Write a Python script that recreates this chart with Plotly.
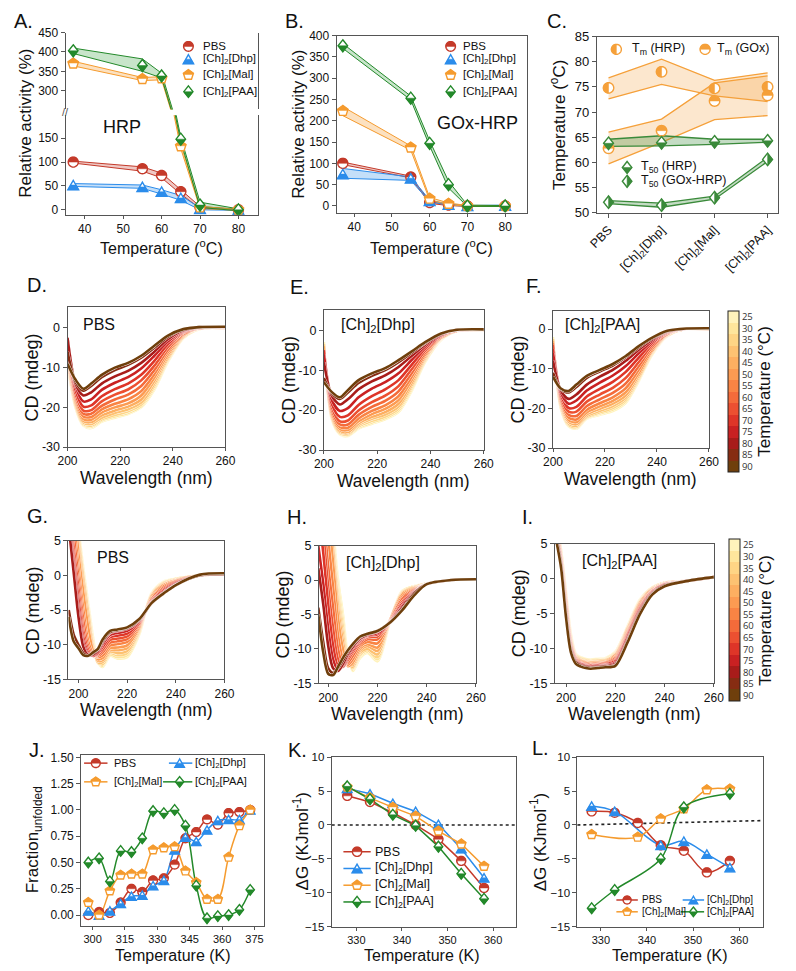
import numpy as np
import plotly.graph_objects as go

W, H = 796, 971
FONT = "Liberation Sans, Arial, sans-serif"

# ---------------- DATA ----------------
# Panel A  (HRP)
A_temp = [37, 55, 60, 65, 70, 80]
A_PBS = [100, 86, 72, 38, 5, 0]
A_PBS_hi = [102, 90, 77, 42, 7, 1]
A_PBS_lo = [98, 81, 67, 33, 3, -1]
A_Dhp = [52, 48, 38, 25, 2, 0]
A_Dhp_hi = [55, 52, 42, 30, 4, 1]
A_Dhp_lo = [49, 45, 33, 20, 0, -1]
A_Mal = [370, 330, 332, 133, 5, 0]
A_Mal_hi = [376, 334, 336, 137, 7, 1]
A_Mal_lo = [364, 326, 328, 128, 3, -1]
A_PAA = [403, 365, 338, 148, 10, 0]
A_PAA_hi = [410, 382, 345, 152, 16, 2]
A_PAA_lo = [396, 350, 333, 144, 5, -2]

# Panel B  (GOx-HRP)
B_temp = [37, 55, 60, 65, 70, 80]
B_PBS = [100, 68, 8, 2, 0, 0]
B_PBS_hi = [103, 70, 10, 3, 1, 1]
B_PBS_lo = [97, 66, 6, 1, -1, -1]
B_Dhp = [75, 65, 12, 3, 0, 1]
B_Dhp_hi = [88, 68, 14, 4, 1, 2]
B_Dhp_lo = [65, 60, 10, 2, -1, 0]
B_Mal = [223, 137, 17, 5, 0, 0]
B_Mal_hi = [233, 141, 20, 7, 1, 1]
B_Mal_lo = [212, 131, 14, 3, -1, -1]
B_PAA = [376, 253, 147, 50, 0, 0]
B_PAA_hi = [381, 258, 153, 58, 2, 1]
B_PAA_lo = [370, 249, 141, 42, -1, -1]

# Panel C
C_cats = ["PBS", "[Ch]<sub>2</sub>[Dhp]", "[Ch]<sub>2</sub>[Mal]", "[Ch]<sub>2</sub>[PAA]"]
C_Tm_HRP = [74.8, 78.0, 74.7, 75.0]
C_Tm_HRP_hi = [76.8, 80.5, 76.3, 77.8]
C_Tm_HRP_lo = [72.6, 75.5, 73.2, 72.1]
C_Tm_GOx = [62.8, 66.3, 72.2, 73.3]
C_Tm_GOx_hi = [66.0, 68.6, 75.8, 77.2]
C_Tm_GOx_lo = [59.7, 64.0, 68.5, 69.3]
C_T50_HRP = [63.8, 63.9, 64.1, 64.3]
C_T50_HRP_hi = [64.6, 65.3, 64.6, 64.6]
C_T50_HRP_lo = [63.2, 63.3, 63.6, 64.0]
C_T50_GH = [52.1, 51.5, 53.0, 60.6]
C_T50_GH_hi = [52.4, 51.9, 53.3, 61.0]
C_T50_GH_lo = [51.8, 51.1, 52.7, 60.2]

# CD spectra
TEMPS = [25, 30, 35, 40, 45, 50, 55, 60, 65, 70, 75, 80, 85, 90]
CD_COLORS = ['#FFF3BC', '#FEE69C', '#FED585', '#FDC272', '#FDAF61', '#FC9B52', '#F98444',
             '#F46B3A', '#EC5031', '#DE3528', '#C92122', '#A81C1A', '#862C12', '#6F3F0C']
WL_top = [200, 203, 206, 209, 213, 218, 223, 228, 233, 238, 244, 250, 260]
D_CD = {
    25: [-9, -20, -24.6, -25.2, -23.6, -22.6, -21.7, -20, -15.5, -8.7, -2.6, -0.3, 0],
    30: [-9, -19.8, -24.4, -24.9, -23.3, -22.3, -21.4, -19.7, -15.1, -8.4, -2.5, -0.2, 0],
    35: [-8.5, -19.6, -24.1, -24.6, -23, -21.9, -21, -19.3, -14.6, -8.1, -2.4, -0.2, 0],
    40: [-8, -19.3, -23.8, -24.2, -22.6, -21.4, -20.5, -18.8, -14, -7.8, -2.3, -0.2, 0],
    45: [-7.5, -18.9, -23.4, -23.7, -22, -20.8, -19.8, -18, -13.3, -7.3, -2.1, -0.1, 0],
    50: [-7, -18.4, -22.9, -23.1, -21.3, -20, -19, -17, -12.5, -6.8, -1.9, -0.1, 0],
    55: [-6, -17.8, -22.3, -22.4, -20.5, -19.1, -18, -15.9, -11.6, -6.2, -1.7, -0.1, 0],
    60: [-5, -17.2, -21.6, -21.6, -19.6, -18, -16.8, -14.6, -10.6, -5.6, -1.5, 0, 0.1],
    65: [-4, -16.5, -20.8, -20.7, -18.5, -16.8, -15.5, -13.2, -9.5, -4.9, -1.2, 0, 0.1],
    70: [-3, -15.5, -19.8, -19.5, -17.2, -15.4, -14, -11.8, -8.3, -4.2, -1, 0, 0.1],
    75: [-2.5, -14.5, -18.5, -18, -15.6, -13.8, -12.4, -10.2, -7, -3.5, -0.8, 0.1, 0.2],
    80: [-2.5, -14, -17, -16.2, -14, -12.2, -10.8, -8.8, -6, -2.9, -0.6, 0.1, 0.2],
    85: [-6, -13.5, -15.8, -14.6, -12.4, -10.6, -9.3, -7.5, -5, -2.3, -0.4, 0.2, 0.3],
    90: [-9, -13, -15.3, -14, -11.8, -10, -8.8, -7, -4.5, -2, -0.3, 0.2, 0.3],
}
E_CD = {
    25: [-3, -22.4, -26.1, -26.5, -24.6, -23.4, -22.3, -20.5, -15.1, -8, -2.4, -0.2, 0],
    30: [-3.5, -22.2, -25.9, -26.3, -24.4, -23.1, -22, -20.1, -14.7, -7.8, -2.3, -0.2, 0],
    35: [-3.5, -22, -25.7, -26.1, -24.1, -22.7, -21.6, -19.6, -14.2, -7.5, -2.2, -0.2, 0],
    40: [-4, -21.8, -25.4, -25.8, -23.7, -22.2, -21.1, -19.1, -13.7, -7.2, -2.1, -0.2, 0],
    45: [-4, -21.5, -25.1, -25.5, -23.3, -21.7, -20.5, -18.4, -13.1, -6.9, -2, -0.1, 0],
    50: [-5, -21.1, -24.7, -25, -22.8, -21, -19.7, -17.5, -12.4, -6.5, -1.9, -0.1, 0],
    55: [-5, -20.6, -24.2, -24.4, -22.1, -20.2, -18.8, -16.5, -11.6, -6.1, -1.8, -0.1, 0],
    60: [-5, -20, -23.6, -23.6, -21.2, -19.2, -17.7, -15.3, -10.7, -5.6, -1.6, -0.1, 0.1],
    65: [-5, -19.3, -22.8, -22.6, -20.1, -18, -16.4, -14, -9.7, -5.1, -1.5, 0, 0.1],
    70: [-5, -18.5, -21.7, -21.3, -18.7, -16.5, -14.8, -12.5, -8.6, -4.6, -1.3, 0, 0.1],
    75: [-6, -17.5, -20.2, -19.5, -16.8, -14.6, -13, -10.8, -7.4, -4.1, -1.2, 0, 0.2],
    80: [-8, -16.5, -18.6, -17.3, -14.8, -12.8, -11.3, -9.2, -6.4, -3.6, -1, 0.1, 0.2],
    85: [-12, -15.8, -17.2, -15.6, -13.2, -11.4, -10, -8, -5.6, -3.2, -0.9, 0.1, 0.2],
    90: [-13, -15.5, -16.8, -15, -12.5, -10.8, -9.5, -7.5, -5.3, -3, -0.8, 0.1, 0.2],
}
F_CD = {
    25: [-2, -20, -24.5, -25.1, -22.6, -21.6, -20.7, -18.6, -13.1, -6.6, -1.8, -0.1, 0],
    30: [-2.5, -19.8, -24.3, -24.9, -22.4, -21.3, -20.3, -18.2, -12.8, -6.4, -1.7, -0.1, 0],
    35: [-2.5, -19.6, -24.1, -24.7, -22.2, -21, -19.9, -17.8, -12.5, -6.2, -1.7, -0.1, 0],
    40: [-3, -19.3, -23.8, -24.4, -21.9, -20.6, -19.4, -17.3, -12.1, -6, -1.6, -0.1, 0],
    45: [-3, -19, -23.4, -24, -21.5, -20.1, -18.8, -16.7, -11.6, -5.8, -1.5, -0.1, 0],
    50: [-3.5, -18.5, -22.9, -23.5, -21, -19.5, -18.1, -15.9, -11, -5.5, -1.4, -0.1, 0],
    55: [-3.5, -18, -22.3, -22.8, -20.3, -18.7, -17.2, -14.9, -10.2, -5.1, -1.3, 0, 0],
    60: [-4, -17.5, -21.6, -21.9, -19.4, -17.7, -16.1, -13.7, -9.3, -4.6, -1.2, 0, 0.1],
    65: [-4, -17, -20.8, -20.8, -18.3, -16.5, -14.8, -12.3, -8.3, -4.1, -1, 0, 0.1],
    70: [-5, -16.5, -19.9, -19.6, -17, -15.1, -13.3, -10.8, -7.2, -3.6, -0.9, 0, 0.1],
    75: [-6, -16, -18.8, -18, -15.5, -13.5, -11.7, -9.3, -6.1, -3.1, -0.7, 0, 0.2],
    80: [-8, -15.5, -17.6, -16.5, -14, -12, -10.3, -8, -5.2, -2.7, -0.6, 0.1, 0.2],
    85: [-11, -15.2, -16, -14.6, -12.3, -10.7, -9.2, -7.1, -4.6, -2.4, -0.5, 0.1, 0.2],
    90: [-12, -15, -15.6, -14, -11.8, -10.3, -8.8, -6.8, -4.3, -2.2, -0.4, 0.1, 0.2],
}
WL_bot = [196, 198, 200, 202, 204, 206, 208, 210, 213, 216, 220, 225, 230, 235, 240, 250, 260]
G_CD = {
    25: [30, 20, 7, 1, -4, -9, -12.5, -13.2, -11.6, -12, -11.8, -8.5, -2.6, -0.9, -0.5, 0, 0.2],
    30: [28, 18, 6.5, 0.5, -4.5, -9.5, -12.6, -13, -11.4, -11.8, -11.5, -8.3, -2.7, -1, -0.5, 0, 0.2],
    35: [26, 17, 6, 0, -5, -10, -12.6, -12.8, -11.2, -11.5, -11.2, -8.1, -2.8, -1.1, -0.6, 0, 0.2],
    40: [24, 16, 5, -0.5, -5.5, -10.3, -12.5, -12.5, -11, -11.2, -10.9, -7.9, -2.9, -1.2, -0.6, 0, 0.2],
    45: [22, 14, 4, -1.5, -6.5, -10.6, -12.3, -12.2, -10.8, -10.8, -10.5, -7.7, -3, -1.3, -0.7, 0, 0.2],
    50: [20, 12, 3, -2.5, -7.5, -10.9, -12.1, -11.9, -10.5, -10.4, -10.1, -7.5, -3.2, -1.4, -0.7, 0, 0.2],
    55: [15, 8, 1, -5, -9.5, -11.3, -11.8, -11.5, -10.1, -9.9, -9.6, -7.3, -3.4, -1.6, -0.8, 0, 0.2],
    60: [13, 6, -0.5, -6.5, -10.3, -11.5, -11.6, -11.1, -9.7, -9.5, -9.2, -7.1, -3.5, -1.8, -0.9, 0, 0.2],
    65: [11, 4, -2, -8, -10.8, -11.6, -11.4, -10.7, -9.3, -9.1, -8.8, -6.9, -3.7, -2, -1, 0, 0.2],
    70: [9, 2.5, -3.5, -9, -11.2, -11.6, -11.2, -10.3, -8.9, -8.7, -8.4, -6.7, -3.8, -2.2, -1.1, 0, 0.2],
    75: [8, 1.5, -5, -9.8, -11.4, -11.5, -11, -9.9, -8.6, -8.3, -8, -6.6, -3.9, -2.4, -1.2, 0, 0.2],
    80: [7, 0.5, -6, -10.3, -11.5, -11.4, -10.8, -9.6, -8.3, -8, -7.7, -6.5, -4, -2.5, -1.3, 0, 0.2],
    85: [-5, -8.5, -10, -11.2, -11.6, -11.2, -10.6, -9.4, -8.2, -7.9, -7.6, -6.4, -4, -2.6, -1.4, 0, 0.2],
    90: [-6, -9.5, -10.5, -11.5, -11.6, -11.1, -10.6, -9.2, -8, -7.8, -7.5, -6.3, -4, -2.6, -1.4, 0.1, 0.3],
}
H_CD = {
    25: [40, 30, 20, 8, 0, -5, -11, -13.2, -11.3, -10.6, -11.8, -6.2, -1.6, -0.9, -0.5, 0, 0.1],
    30: [38, 28, 18, 7, -1, -6, -11.3, -13, -11, -10.4, -11.5, -6.1, -1.7, -0.9, -0.5, 0, 0.1],
    35: [36, 26, 16, 6, -2, -7, -11.6, -12.8, -10.8, -10.2, -11.2, -6, -1.8, -1, -0.5, 0, 0.1],
    40: [34, 24, 14, 5, -3, -8, -12, -12.6, -10.5, -10, -10.8, -6, -1.9, -1, -0.5, 0, 0.1],
    45: [32, 22, 12, 4, -4, -9, -12.3, -12.3, -10.2, -9.6, -10.3, -5.9, -2, -1.1, -0.6, 0, 0.1],
    50: [30, 20, 10, 2.5, -5.5, -10, -12.5, -12, -9.9, -9.3, -9.8, -5.9, -2.2, -1.2, -0.6, 0, 0.1],
    55: [22, 14, 6, -1, -8, -11.5, -12.3, -11.5, -9.6, -9, -9.2, -6, -2.5, -1.3, -0.6, 0, 0.1],
    60: [18, 10, 2, -4, -10, -12.3, -12, -11, -9.3, -8.6, -8.6, -6, -2.8, -1.4, -0.6, 0, 0.1],
    65: [14, 7, -1, -7, -11.5, -12.6, -11.6, -10.5, -9, -8.3, -8.2, -6.1, -3.2, -1.5, -0.6, 0, 0.1],
    70: [10, 4, -3.5, -9.5, -12.5, -12.6, -11.2, -10.2, -8.8, -8.1, -7.9, -6.1, -3.5, -1.6, -0.6, 0, 0.1],
    75: [5, -0.5, -7, -11.5, -13, -12.4, -10.9, -9.9, -8.6, -8, -7.7, -6.2, -3.8, -1.7, -0.6, 0, 0.1],
    80: [1.7, -3.5, -9.5, -12.8, -13.2, -12.2, -10.7, -9.7, -8.5, -7.9, -7.5, -6.2, -4, -1.8, -0.6, 0, 0.1],
    85: [-4, -9, -12.8, -13.5, -12.8, -11.7, -10.4, -9.4, -8.3, -7.8, -7.4, -6.2, -4.3, -1.9, -0.6, 0, 0.1],
    90: [-5, -10.5, -13.6, -13.8, -12.6, -11.3, -10.2, -9.3, -8.2, -7.8, -7.4, -6.2, -4.4, -2.2, -0.6, 0, 0.1],
}
I_CD = {
    25: [8, 4, -2, -8, -10.8, -11.3, -11.5, -11.6, -11.5, -11.4, -10.5, -6.8, -3.0, -1.3, -0.6, -0.3, 0.2],
    30: [8, 4, -2.2, -8.2, -10.9, -11.4, -11.6, -11.7, -11.6, -11.5, -10.6, -6.9, -3.1, -1.3, -0.6, -0.3, 0.2],
    35: [8, 3.8, -2.4, -8.4, -11, -11.5, -11.7, -11.8, -11.7, -11.6, -10.7, -7, -3.2, -1.4, -0.6, -0.3, 0.2],
    40: [8, 3.6, -2.6, -8.6, -11.1, -11.6, -11.8, -11.9, -11.8, -11.7, -10.8, -7.1, -3.3, -1.4, -0.6, -0.3, 0.2],
    45: [8, 3.4, -2.8, -8.8, -11.2, -11.7, -11.9, -12, -11.9, -11.8, -10.9, -7.2, -3.4, -1.5, -0.7, -0.3, 0.2],
    50: [7.5, 3.2, -3, -9, -11.3, -11.8, -12, -12.1, -12, -11.9, -11, -7.4, -3.5, -1.5, -0.7, -0.3, 0.2],
    55: [7.5, 3, -3.3, -9.2, -11.4, -11.9, -12.1, -12.2, -12.1, -12, -11.2, -7.6, -3.7, -1.6, -0.7, -0.3, 0.2],
    60: [7, 2.8, -3.6, -9.4, -11.5, -12, -12.2, -12.3, -12.2, -12.1, -11.4, -7.8, -3.9, -1.7, -0.8, -0.3, 0.2],
    65: [7, 2.6, -4, -9.6, -11.6, -12.1, -12.3, -12.4, -12.3, -12.2, -11.6, -8, -4.1, -1.8, -0.8, -0.3, 0.2],
    70: [6.5, 2.4, -4.3, -9.8, -11.7, -12.2, -12.4, -12.5, -12.4, -12.3, -11.8, -8.2, -4.3, -1.9, -0.9, -0.3, 0.2],
    75: [6.5, 2.2, -4.6, -10, -11.8, -12.3, -12.5, -12.6, -12.5, -12.4, -12, -8.4, -4.5, -2, -0.9, -0.3, 0.2],
    80: [6, 2, -5, -10.2, -11.9, -12.4, -12.6, -12.7, -12.6, -12.5, -12.2, -8.7, -4.7, -2.1, -1, -0.3, 0.2],
    85: [6, 1.8, -5.3, -10.4, -12, -12.5, -12.7, -12.8, -12.7, -12.6, -12.4, -8.9, -4.9, -2.2, -1, -0.3, 0.2],
    90: [5.5, 1.5, -5.6, -10.6, -12.2, -12.6, -12.8, -12.9, -12.8, -12.7, -12.5, -9.1, -5.1, -2.3, -1.1, -0.3, 0.2],
}

# Panel J
J_T = [298, 303, 308, 313, 318, 323, 328, 333, 338, 343, 348, 353, 358, 363, 368, 373]
J_PBS = [0.00, 0.03, 0.02, 0.12, 0.25, 0.22, 0.33, 0.35, 0.48, 0.73, 0.79, 0.91, 0.86, 0.97, 0.98, 1.00]
J_Dhp = [0.04, 0.00, 0.04, 0.11, 0.18, 0.19, 0.28, 0.33, 0.62, 0.74, 0.70, 0.81, 0.90, 0.91, 0.91, 1.00]
J_Mal = [0.12, 0.00, 0.23, 0.38, 0.39, 0.39, 0.62, 0.64, 0.65, 0.42, 0.31, 0.15, 0.15, 0.55, 0.85, 1.00]
J_PAA = [0.50, 0.54, 0.32, 0.61, 0.60, 0.73, 0.99, 0.97, 1.00, 0.85, 0.28, -0.03, -0.01, 0.00, 0.05, 0.24]

# Panel K
K_T = [328, 333, 338, 343, 348, 353, 358]
K_PBS = [4.3, 3.4, 1.8, 0.0, -2.1, -5.3, -9.3]
K_Dhp = [5.4, 4.6, 3.2, 2.0, 0.1, -3.5, -7.8]
K_Mal = [5.6, 4.0, 2.6, 1.3, -0.9, -2.8, -6.1]
K_PAA = [5.7, 3.8, 1.5, -0.1, -3.2, -7.2, -10.9]

# Panel L
L_T_PBS = [328, 333, 338, 343, 348, 353, 358]
L_PBS = [2.0, 1.8, 0.3, -3.0, -3.8, -7.0, -5.3]
L_T_Dhp = [328, 333, 343, 348, 353, 358]
L_Dhp = [2.8, 2.0, -3.0, -2.4, -4.3, -6.3]
L_T_Mal = [328, 338, 343, 348, 353, 358]
L_Mal = [-1.4, -1.8, 0.9, 2.4, 5.2, 5.3]
L_T_PAA = [328, 333, 343, 348, 358]
L_PAA = [-12.3, -9.6, -5.0, 2.6, 4.6]
L_ref = [0.0, 0.65]

# ---------------- STYLE ----------------
RED, BLUE, ORANGE, GREEN = '#C43A2A', '#2B8CEB', '#F59B2E', '#23892A'
RED_F, BLUE_F, ORANGE_F, GREEN_F = ('rgba(196,58,42,0.28)', 'rgba(43,140,235,0.28)',
                                    'rgba(245,155,46,0.30)', 'rgba(35,150,42,0.25)')
C_OR, C_GR = '#F5A03A', '#3A8A3A'

fig = go.Figure()
shapes, annotations = [], []


def P(x, y):
    return x / W, 1 - y / H


def ann(text, x, y, size, xanchor='center', yanchor='middle', angle=0, color='#111', pad=1):
    X, Y = P(x, y)
    annotations.append(dict(text=text, x=X, y=Y, xref='paper', yref='paper', showarrow=False,
                            xanchor=xanchor, yanchor=yanchor, textangle=angle, borderpad=pad,
                            font=dict(size=size, color=color, family=FONT)))


def sym_pts(sym, r):
    if sym == 'circle':
        t = np.linspace(0, 2 * np.pi, 33)[:-1]
        return np.c_[r * np.cos(t), r * np.sin(t)]
    if sym == 'triangle':
        R = r * 1.25
        t = np.deg2rad([90, 210, 330])
        return np.c_[R * np.cos(t), R * np.sin(t) - 0.25 * R]
    if sym == 'pentagon':
        R = r * 1.1
        t = np.deg2rad(90 + 72 * np.arange(5))
        return np.c_[R * np.cos(t), R * np.sin(t)]
    return np.array([[0, 1.2 * r], [0.95 * r, 0], [0, -1.2 * r], [-0.95 * r, 0]])


def clip_half(pts, half):
    cx = (pts[:, 0].max() + pts[:, 0].min()) / 2
    cy = (pts[:, 1].max() + pts[:, 1].min()) / 2
    f = {'top': lambda p: p[1] - cy, 'bottom': lambda p: cy - p[1],
         'left': lambda p: cx - p[0], 'right': lambda p: p[0] - cx}[half]
    out = []
    n = len(pts)
    for i in range(n):
        a, b = pts[i], pts[(i + 1) % n]
        fa, fb = f(a), f(b)
        if fa >= 0:
            out.append(a)
        if (fa >= 0) != (fb >= 0):
            t = fa / (fa - fb)
            out.append(a + t * (b - a))
    return np.array(out)


def pstr(pts):
    return 'M' + 'L'.join(f'{x:.2f},{y:.2f}' for x, y in pts) + 'Z'


def marker(xref, yref, x, y, sym, color, half, r):
    pts = sym_pts(sym, r)
    base = dict(type='path', xref=xref, yref=yref, xsizemode='pixel', ysizemode='pixel',
                xanchor=x, yanchor=y, layer='above')
    shapes.append(dict(base, path=pstr(pts), fillcolor='white', line=dict(color=color, width=1.4)))
    shapes.append(dict(base, path=pstr(clip_half(pts, half)), fillcolor=color,
                       line=dict(color=color, width=0.5)))


def markers(xref, yref, xs, ys, sym, color, half, r):
    for x, y in zip(xs, ys):
        marker(xref, yref, x, y, sym, color, half, r)


def leg_marker(x, y, sym, color, half, r):
    X, Y = P(x, y)
    marker('paper', 'paper', X, Y, sym, color, half, r)


def leg_line(x0, x1, y, color, width=1.5):
    X0, Y = P(x0, y)
    X1, _ = P(x1, y)
    shapes.append(dict(type='line', xref='paper', yref='paper', x0=X0, x1=X1, y0=Y, y1=Y,
                       line=dict(color=color, width=width), layer='above'))


def band(xa, ya, x, hi, lo, color, fill, width=1.0):
    fig.add_trace(go.Scatter(x=x, y=hi, mode='lines', line=dict(color=color, width=width),
                             xaxis=xa, yaxis=ya, hoverinfo='skip'))
    fig.add_trace(go.Scatter(x=x, y=lo, mode='lines', line=dict(color=color, width=width),
                             fill='tonexty', fillcolor=fill, xaxis=xa, yaxis=ya, hoverinfo='skip'))


def line(xa, ya, x, y, color, shape='linear', width=1.5):
    fig.add_trace(go.Scatter(x=x, y=y, mode='lines',
                             line=dict(color=color, width=width, shape=shape, smoothing=1.0),
                             xaxis=xa, yaxis=ya, hoverinfo='skip'))


AX = dict(showline=True, linecolor='#555', linewidth=1, ticks='outside', ticklen=4,
          tickcolor='#555', showgrid=False, zeroline=False,
          tickfont=dict(size=12, color='#111', family=FONT))


def xax(x0, x1, anchor, rng, mirror=True, **kw):
    d = dict(AX, domain=[x0 / W, x1 / W], anchor=anchor, range=rng, mirror=mirror)
    d.update(kw)
    return d


def yax(top, bot, anchor, rng, mirror=True, **kw):
    d = dict(AX, domain=[1 - bot / H, 1 - top / H], anchor=anchor, range=rng, mirror=mirror)
    d.update(kw)
    return d


layout_axes = {}

# ---------------- Panel A ----------------
A_up_rng = [251.6, 450]
A_lo_rng = [-10.3, 198]
layout_axes['xaxis'] = xax(57, 254, 'y2', [35.0, 85.0], mirror=False, tickvals=[40, 50, 60, 70, 80],
                           ticklen=3)
layout_axes['yaxis'] = yax(26, 104, 'x', A_up_rng, mirror=True, tickvals=[300, 350, 400, 450])
layout_axes['yaxis2'] = yax(110, 211, 'x', A_lo_rng, mirror=True, tickvals=[0, 50, 100, 150])
A_series = [(A_PBS, A_PBS_hi, A_PBS_lo, RED, RED_F, 'circle', 'top'),
            (A_Dhp, A_Dhp_hi, A_Dhp_lo, BLUE, BLUE_F, 'triangle', 'bottom'),
            (A_Mal, A_Mal_hi, A_Mal_lo, ORANGE, ORANGE_F, 'pentagon', 'top'),
            (A_PAA, A_PAA_hi, A_PAA_lo, GREEN, GREEN_F, 'diamond', 'bottom')]
for ya in ['y', 'y2']:
    for m, hi, lo, c, fc, s, h in A_series:
        band('x', ya, A_temp, hi, lo, c, fc)
for m, hi, lo, c, fc, s, h in A_series:
    for x, y in zip(A_temp, m):
        marker('x', 'y' if y > A_up_rng[0] else 'y2', x, y, s, c, h, 5)
ann('//', 57, 107, 11, color='#555')
ann('HRP', 115, 122, 18)
for (lbl, c, s, h), yy in zip([('PBS', RED, 'circle', 'top'),
                               ('[Ch]<sub>2</sub>[Dhp]', BLUE, 'triangle', 'bottom'),
                               ('[Ch]<sub>2</sub>[Mal]', ORANGE, 'pentagon', 'top'),
                               ('[Ch]<sub>2</sub>[PAA]', GREEN, 'diamond', 'bottom')], [40, 53, 69, 86]):
    leg_marker(183, yy, s, c, h, 4.8)
    ann(lbl, 196, yy, 11.5, xanchor='left')
ann('Relative activity (%)', 16, 118, 17, angle=-90)
ann('Temperature (<sup>o</sup>C)', 155, 244, 16, pad=0)

# ---------------- Panel B ----------------
layout_axes['xaxis2'] = xax(335, 530, 'y3', [35.35, 85.7], tickvals=[40, 50, 60, 70, 80], ticklen=3)
layout_axes['yaxis3'] = yax(29, 209, 'x2', [-16, 400], tickvals=list(range(0, 401, 50)))
B_series = [(B_PBS, B_PBS_hi, B_PBS_lo, RED, RED_F, 'circle', 'top'),
            (B_Dhp, B_Dhp_hi, B_Dhp_lo, BLUE, BLUE_F, 'triangle', 'bottom'),
            (B_Mal, B_Mal_hi, B_Mal_lo, ORANGE, ORANGE_F, 'pentagon', 'top'),
            (B_PAA, B_PAA_hi, B_PAA_lo, GREEN, GREEN_F, 'diamond', 'bottom')]
for m, hi, lo, c, fc, s, h in B_series:
    band('x2', 'y3', B_temp, hi, lo, c, fc)
for m, hi, lo, c, fc, s, h in B_series:
    markers('x2', 'y3', B_temp, m, s, c, h, 5)
ann('GOx-HRP', 480, 118, 18)
for (lbl, c, s, h), yy in zip([('PBS', RED, 'circle', 'top'),
                               ('[Ch]<sub>2</sub>[Dhp]', BLUE, 'triangle', 'bottom'),
                               ('[Ch]<sub>2</sub>[Mal]', ORANGE, 'pentagon', 'top'),
                               ('[Ch]<sub>2</sub>[PAA]', GREEN, 'diamond', 'bottom')], [40, 53, 69, 86]):
    leg_marker(452, yy, s, c, h, 4.8)
    ann(lbl, 463, yy, 11.5, xanchor='left')
ann('Relative activity (%)', 296, 119, 17, angle=-90)
ann('Temperature (<sup>o</sup>C)', 432, 244, 16, pad=0)

# ---------------- Panel C ----------------
C_x = list(range(len(C_cats)))
layout_axes['xaxis3'] = xax(602, 788, 'y4', [-0.22, 3.2], tickvals=C_x, ticktext=C_cats, tickangle=-45,
                            tickfont=dict(size=12.5, color='#111', family=FONT))
layout_axes['yaxis4'] = yax(30, 209, 'x3', [50, 85], dtick=5,
                            tickfont=dict(size=13, color='#111', family=FONT))
band('x3', 'y4', C_x, C_Tm_HRP_hi, C_Tm_HRP_lo, C_OR, 'rgba(245,160,58,0.25)', 1.3)
band('x3', 'y4', C_x, C_Tm_GOx_hi, C_Tm_GOx_lo, C_OR, 'rgba(245,160,58,0.25)', 1.3)
band('x3', 'y4', C_x, C_T50_HRP_hi, C_T50_HRP_lo, C_GR, 'rgba(58,138,58,0.30)', 1.3)
band('x3', 'y4', C_x, C_T50_GH_hi, C_T50_GH_lo, C_GR, 'rgba(58,138,58,0.30)', 1.3)
markers('x3', 'y4', C_x, C_Tm_HRP, 'circle', C_OR, 'left', 5.2)
markers('x3', 'y4', C_x, C_Tm_GOx, 'circle', C_OR, 'top', 5.2)
markers('x3', 'y4', C_x, C_T50_HRP, 'diamond', C_GR, 'bottom', 5.2)
markers('x3', 'y4', C_x, C_T50_GH, 'diamond', C_GR, 'right', 5.2)
leg_marker(622, 43, 'circle', C_OR, 'left', 5)
ann('T<sub>m</sub> (HRP)', 636, 43, 12.5, xanchor='left')
leg_marker(713, 43, 'circle', C_OR, 'top', 5)
ann('T<sub>m</sub> (GOx)', 723, 43, 12.5, xanchor='left')
leg_marker(633, 163, 'diamond', C_GR, 'bottom', 5)
ann('T<sub>50</sub> (HRP)', 645, 163, 12.5, xanchor='left')
leg_marker(633, 177, 'diamond', C_GR, 'right', 5)
ann('T<sub>50</sub> (GOx-HRP)', 645, 177, 12.5, xanchor='left')
ann('Temperature (<sup>o</sup>C)', 562, 120, 17, angle=-90)

# ---------------- CD panels ----------------
def cd_panel(xa, ya, wl, curves):
    for T, c in zip(TEMPS, CD_COLORS):
        fig.add_trace(go.Scatter(x=wl, y=curves[T], mode='lines',
                                 line=dict(color='white', width=3.3, shape='spline', smoothing=0.8),
                                 xaxis=xa, yaxis=ya, hoverinfo='skip'))
        fig.add_trace(go.Scatter(x=wl, y=curves[T], mode='lines',
                                 line=dict(color=c, width=2.6, shape='spline', smoothing=0.8),
                                 xaxis=xa, yaxis=ya, hoverinfo='skip'))


top_yt = dict(tickvals=[-30, -20, -10, 0], ticktext=['-30', '-20', '-10', '0'])
bot_yt = dict(tickvals=[-15, -10, -5, 0, 5], ticktext=['-15', '-10', '-5', '0', '5'])
cd_specs = [
    ('xaxis4', 'yaxis5', 'x4', 'y5', (59, 221), (305, 447), [200, 260], [-30, 5.2], top_yt, [200, 220, 240, 260], WL_top, D_CD),
    ('xaxis5', 'yaxis6', 'x5', 'y6', (322, 486), (308, 450), [200, 260], [-30, 5], top_yt, [200, 220, 240, 260], WL_top, E_CD),
    ('xaxis6', 'yaxis7', 'x6', 'y7', (557, 717), (309, 448), [200, 260], [-30, 4.5], top_yt, [200, 220, 240, 260], WL_top, F_CD),
    ('xaxis7', 'yaxis8', 'x7', 'y8', (60, 220), (542, 683), [195.9, 260], [-15, 5], bot_yt, [200, 220, 240, 260], WL_bot, G_CD),
    ('xaxis8', 'yaxis9', 'x8', 'y9', (317, 478), (547, 687), [196.3, 260], [-15, 5], bot_yt, [200, 220, 240, 260], WL_bot, H_CD),
    ('xaxis9', 'yaxis10', 'x9', 'y10', (559, 722), (545, 687), [195.5, 260], [-15, 5], bot_yt, [200, 220, 240, 260], WL_bot, I_CD),
]
for xk, yk, xa, ya, (x0, x1), (y0, y1), xr, yr, yt, xt, wl, curves in cd_specs:
    layout_axes[xk] = xax(x0, x1, ya, xr, tickvals=xt, ticklen=3,
                          tickfont=dict(size=12, color='#111', family=FONT))
    layout_axes[yk] = yax(y0, y1, xa, yr, tickfont=dict(size=12.5, color='#111', family=FONT), **yt)
    cd_panel(xa, ya, wl, curves)
    ann('CD (mdeg)', x0 - 36, (y0 + y1) / 2, 18, angle=-90)
    ann('Wavelength (nm)', (x0 + x1) / 2, y1 + 31, 17.5, pad=0)

ann('PBS', 73, 322, 16, xanchor='left')
ann('[Ch]<sub>2</sub>[Dhp]', 337, 323, 16, xanchor='left')
ann('[Ch]<sub>2</sub>[PAA]', 567, 323, 16, xanchor='left')
ann('PBS', 87, 559, 16, xanchor='left')
ann('[Ch]<sub>2</sub>[Dhp]', 343, 565, 16, xanchor='left')
ann('[Ch]<sub>2</sub>[PAA]', 585, 563, 16, xanchor='left')

# colorbars
cs = []
n = len(TEMPS)
for i, c in enumerate(CD_COLORS[::-1]):
    cs += [[i / n, c], [(i + 1) / n, c]]
for (bx, btop, bbot, xa, ya) in [(737, 310, 471, 'x6', 'y7'), (738, 542, 704, 'x9', 'y10')]:
    fig.add_trace(go.Scatter(
        x=[None], y=[None], mode='markers', xaxis=xa, yaxis=ya, hoverinfo='skip',
        marker=dict(color=[-t for t in TEMPS], colorscale=cs, cmin=-92.5, cmax=-22.5, showscale=True,
                    colorbar=dict(x=bx / W, xanchor='left', xpad=0, ypad=0,
                                  y=1 - (btop + bbot) / 2 / H, yanchor='middle',
                                  len=bbot - btop, lenmode='pixels', thickness=11,
                                  thicknessmode='pixels', outlinewidth=1, outlinecolor='#222',
                                  tickvals=[-t for t in TEMPS], ticktext=[str(t) for t in TEMPS],
                                  ticks='',
                                  tickfont=dict(size=9.5, family='Open Sans', color='#333'),
                                  title=dict(text='Temperature (°C)', side='right',
                                             font=dict(size=17, family=FONT, color='#111'))))))

# ---------------- Panel J/K/L shared tick style ----------------
BT = dict(size=11, color='#111', family=FONT)

# ---------------- Panel J ----------------
layout_axes['xaxis10'] = xax(73, 261, 'y11', [294.7, 379.6], tickvals=[300, 315, 330, 345, 360, 375],
                             tickfont=BT, ticklen=3)
layout_axes['yaxis11'] = yax(760, 933, 'x10', [-0.1, 1.52], tickvals=[0, 0.25, 0.5, 0.75, 1.0, 1.25, 1.5],
                             tickformat='.2f')
J_series = [(J_PBS, RED, 'circle', 'top'), (J_Dhp, BLUE, 'triangle', 'bottom'),
            (J_Mal, ORANGE, 'pentagon', 'top'), (J_PAA, GREEN, 'diamond', 'bottom')]
for v, c, s, h in J_series:
    line('x10', 'y11', J_T, v, c, 'spline')
for v, c, s, h in J_series:
    markers('x10', 'y11', J_T, v, s, c, h, 4.4)
for (lbl, c, s, h, lx0, lx1, mx, tx, yy) in [
        ('PBS', RED, 'circle', 'top', 76, 100, 88, 105, 768),
        ('[Ch]<sub>2</sub>[Dhp]', BLUE, 'triangle', 'bottom', 163, 187, 174, 188, 768),
        ('[Ch]<sub>2</sub>[Mal]', ORANGE, 'pentagon', 'top', 76, 100, 88, 105, 787),
        ('[Ch]<sub>2</sub>[PAA]', GREEN, 'diamond', 'bottom', 157, 187, 174, 188, 787)]:
    leg_line(lx0, lx1, yy, c)
    leg_marker(mx, yy, s, c, h, 4.4)
    ann(lbl, tx, yy, 11, xanchor='left')
ann('Fraction<sub>unfolded</sub>', 25, 846, 17, angle=-90)
ann('Temperature (K)', 167, 963, 16, pad=0)

# ---------------- Panel K ----------------
layout_axes['xaxis11'] = xax(330, 519, 'y12', [324.6, 365], tickvals=[330, 340, 350, 360],
                             tickfont=BT, ticklen=3)
layout_axes['yaxis12'] = yax(762, 934, 'x11', [-15, 10], dtick=5,
                             tickfont=dict(size=11.5, color='#111', family=FONT))
shapes.append(dict(type='line', xref='x11 domain', yref='y12', x0=0, x1=1, y0=0, y1=0,
                   line=dict(color='#222', width=1.6, dash='dot'), layer='below'))
K_series = [(K_PBS, RED, 'circle', 'top'), (K_Dhp, BLUE, 'triangle', 'bottom'),
            (K_Mal, ORANGE, 'pentagon', 'top'), (K_PAA, GREEN, 'diamond', 'bottom')]
for v, c, s, h in K_series:
    line('x11', 'y12', K_T, v, c)
for v, c, s, h in K_series:
    markers('x11', 'y12', K_T, v, s, c, h, 4.5)
for (lbl, c, s, h), yy in zip([('PBS', RED, 'circle', 'top'),
                               ('[Ch]<sub>2</sub>[Dhp]', BLUE, 'triangle', 'bottom'),
                               ('[Ch]<sub>2</sub>[Mal]', ORANGE, 'pentagon', 'top'),
                               ('[Ch]<sub>2</sub>[PAA]', GREEN, 'diamond', 'bottom')], [858, 875, 892, 909]):
    leg_line(342, 370, yy, c)
    leg_marker(356, yy, s, c, h, 4.6)
    ann(lbl, 372, yy, 12.5, xanchor='left')
ann('ΔG (KJmol<sup>-1</sup>)', 298, 848, 17, angle=-90)
ann('Temperature (K)', 423, 963, 16, pad=0)

# ---------------- Panel L ----------------
layout_axes['xaxis12'] = xax(582, 772, 'y13', [324.9, 365.1], tickvals=[330, 340, 350, 360],
                             tickfont=BT, ticklen=3)
layout_axes['yaxis13'] = yax(762, 934, 'x12', [-15, 10], dtick=5,
                             tickfont=dict(size=11.5, color='#111', family=FONT))
shapes.append(dict(type='line', xref='x12 domain', yref='y13', x0=0, x1=1, y0=L_ref[0], y1=L_ref[1],
                   line=dict(color='#222', width=1.6, dash='dot'), layer='below'))
L_series = [(L_T_PBS, L_PBS, RED, 'circle', 'top'), (L_T_Dhp, L_Dhp, BLUE, 'triangle', 'bottom'),
            (L_T_Mal, L_Mal, ORANGE, 'pentagon', 'top'), (L_T_PAA, L_PAA, GREEN, 'diamond', 'bottom')]
for t, v, c, s, h in L_series:
    line('x12', 'y13', t, v, c, 'spline')
for t, v, c, s, h in L_series:
    markers('x12', 'y13', t, v, s, c, h, 4.5)
for (lbl, c, s, h, lx0, lx1, mx, tx, yy) in [
        ('PBS', RED, 'circle', 'top', 622, 644, 633, 646, 907),
        ('[Ch]<sub>2</sub>[Dhp]', BLUE, 'triangle', 'bottom', 690, 712, 701, 713, 907),
        ('[Ch]<sub>2</sub>[Mal]', ORANGE, 'pentagon', 'top', 622, 644, 633, 646, 919),
        ('[Ch]<sub>2</sub>[PAA]', GREEN, 'diamond', 'bottom', 688, 712, 701, 713, 919)]:
    leg_line(lx0, lx1, yy, c)
    leg_marker(mx, yy, s, c, h, 4.0)
    ann(lbl, tx, yy, 10, xanchor='left')
ann('ΔG (KJmol<sup>-1</sup>)', 542, 848, 17, angle=-90)
ann('Temperature (K)', 677, 963, 16, pad=0)

# ---------------- panel letters ----------------
for lt, x, y in [('A.', 2, 14), ('B.', 280, 14), ('C.', 549, 14), ('D.', 15, 282), ('E.', 285, 284),
                 ('F.', 527, 283), ('G.', 15, 517), ('H.', 282, 518), ('I.', 523, 518),
                 ('J.', 17, 755), ('K.', 283, 755), ('L.', 533, 753)]:
    ann(lt, x, y, 20, xanchor='left')

fig.update_layout(width=W, height=H, margin=dict(l=0, r=0, t=0, b=0), showlegend=False,
                  paper_bgcolor='white', plot_bgcolor='white',
                  font=dict(family=FONT, color='#111'),
                  shapes=shapes, annotations=annotations, **layout_axes)
fig.write_html("out.html")
